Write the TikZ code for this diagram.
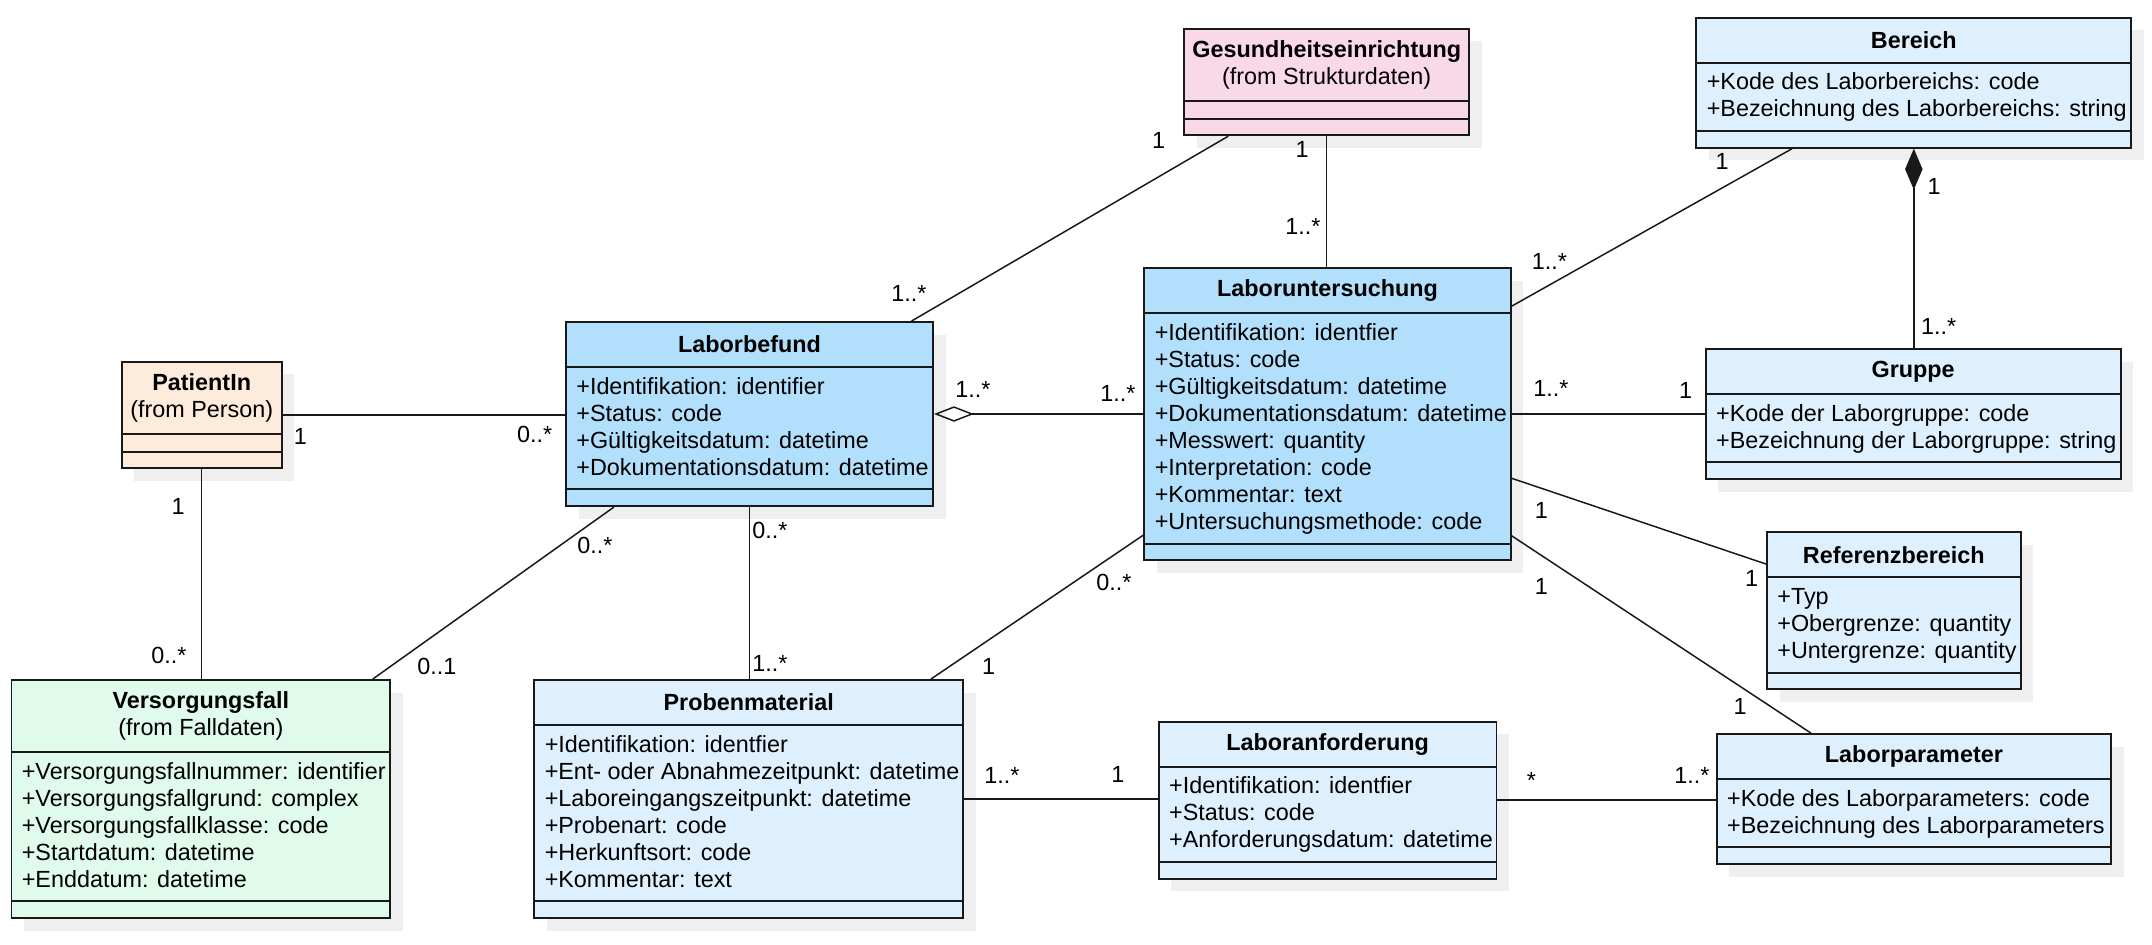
\documentclass[tikz,border=0pt]{standalone}
\usepackage{fontspec}
\setmainfont{Liberation Sans}
\usepackage{tikz}
\usetikzlibrary{calc,fit,arrows.meta}
\definecolor{befundblue}{HTML}{B2DFFB}
\definecolor{paleblue}{HTML}{DEF0FD}
\definecolor{peach}{HTML}{FDEBDC}
\definecolor{pink}{HTML}{F9D9E8}
\definecolor{mint}{HTML}{E0FBEB}
\definecolor{shadowgray}{HTML}{EFEFEF}
\tikzset{
  boxshadow/.style={fill=shadowgray},
  classbox/.style={draw=black!90, line width=1.1pt, inner sep=0pt},
  classline/.style={draw=black!90, line width=1.1pt},
  classtitle/.style={inner sep=0pt, align=center, font=\fontsize{13.3}{15.4}\selectfont},
  classattr/.style={inner sep=0pt, anchor=base west, font=\fontsize{13.3}{15.4}\selectfont},
  mult/.style={inner sep=0pt, font=\fontsize{13.3}{15.4}\selectfont},
  assoc/.style={draw=black!90, line width=0.85pt}
}
% class box: [fill](name)(x,y)(width:header:rows){title}{attributes}
\def\umlclass[#1](#2)(#3,#4)(#5:#6:#7)#8#9{%
  \pgfmathsetmacro\ah{(#7==0)*18+(#7>0)*(27*#7+14.4)}%
  \pgfmathsetmacro\xr{#3+#5}%
  \pgfmathsetmacro\yb{#4+#6+\ah+16.6}%
  \fill[boxshadow] (#3+12.5,#4+12.5) rectangle (\xr+12.5,\yb+12.5);
  \node[classbox, fill=#1, fit={(#3,#4) (\xr,\yb)}] (#2) {};
  \draw[classline] (#3,#4+#6) -- (\xr,#4+#6);
  \draw[classline] (#3,#4+#6+\ah) -- (\xr,#4+#6+\ah);
  \node[classtitle] (#2-t) at (#3+#5/2,#4+#6/2) {#8};
  \foreach \a [count=\i] in {#9} \node[classattr] (#2-a\i) at (#3+10,#4+#6+27*\i) {\a};
}

\begin{document}
\begin{tikzpicture}[x=0.02cm, y=-0.02cm]
			%%%%% START %%%%%
			\useasboundingbox (0,0) rectangle (2152,944);
			
			\umlclass[peach](pat)(121.7,361.7)(160:72:0){\textbf{PatientIn}\\(from Person)}{}
			\umlclass[befundblue](lbf)(566,322)(367:45:4){\textbf{Laborbefund}}{+Identifikation: identifier, +Status: code, +Gültigkeitsdatum: datetime, +Dokumentationsdatum: datetime}
			\umlclass[befundblue](lu)(1144.4,268.2)(366.2:45:8){\textbf{Laboruntersuchung}}{+Identifikation: identfier, +Status: code, +Gültigkeitsdatum: datetime, +Dokumentationsdatum: datetime, +Messwert: quantity, +Interpretation: code, +Kommentar: text, +Untersuchungsmethode: code}
			\umlclass[pink](ges)(1184.2,28.6)(285:72:0){\textbf{Gesundheitseinrichtung}\\(from Strukturdaten)}{}
			\umlclass[paleblue](ber)(1696.4,17.7)(434.8:45:2){\textbf{Bereich}}{+Kode des Laborbereichs: code, +Bezeichnung des Laborbereichs: string}
			\umlclass[paleblue](grp)(1705.8,349)(414.7:45:2){\textbf{Gruppe}}{+Kode der Laborgruppe: code, +Bezeichnung der Laborgruppe: string}
			\umlclass[paleblue](ref)(1767,532.3)(253.6:45:3){\textbf{Referenzbereich}}{+Typ, +Obergrenze: quantity, +Untergrenze: quantity}
			\umlclass[paleblue](lpa)(1716.8,734)(394.2:45:2){\textbf{Laborparameter}}{+Kode des Laborparameters: code, +Bezeichnung des Laborparameters}
			\umlclass[paleblue](lan)(1158.8,721.7)(337.7:45:3){\textbf{Laboranforderung}}{+Identifikation: identfier, +Status: code, +Anforderungsdatum: datetime}
			\umlclass[paleblue](pro)(534.4,680)(428.6:45:6){\textbf{Probenmaterial}}{+Identifikation: identfier, +Ent- oder Abnahmezeitpunkt: datetime, +Laboreingangszeitpunkt: datetime, +Probenart: code, +Herkunftsort: code, +Kommentar: text}
			\umlclass[mint](vf)(11.5,680)(378.8:72:5){\textbf{Versorgungsfall}\\(from Falldaten)}{+Versorgungsfallnummer: identifier, +Versorgungsfallgrund: complex, +Versorgungsfallklasse: code, +Startdatum: datetime, +Enddatum: datetime}
			
			\draw[assoc] (pat.east) -- (pat.east -| lbf.west);
			\draw[assoc] (pat.south) -- (pat.south |- vf.north);
			\draw[assoc] ($(lbf.south west)+(49,0)$) -- ($(vf.north east)+(-18.5,0)$);
			\draw[assoc] (lbf.south) -- (lbf.south |- pro.north);
			\draw[assoc, {Diamond[open,length=0.8cm,width=0.31cm]}-] (lbf.east) -- (lbf.east -| lu.west);
			\draw[assoc] ($(ges.south west)+(45,0)$) -- ($(lbf.north east)+(-22.4,0)$);
			\draw[assoc] (ges.south) -- (ges.south |- lu.north);
			\draw[assoc] ($(ber.south west)+(96.6,0)$) -- ($(lu.north east)+(0,39)$);
			\draw[assoc, {Diamond[length=0.82cm,width=0.35cm]}-] (ber.south) -- (ber.south |- grp.north);
			\draw[assoc] (lu.east) -- (lu.east -| grp.west);
			\draw[assoc] ($(lu.north east)+(0,211)$) -- ($(ref.north west)+(0,32.7)$);
			\draw[assoc] ($(lu.north east)+(0,268.5)$) -- ($(lpa.north west)+(95,0)$);
			\draw[assoc] ($(lu.north west)+(0,267.8)$) -- ($(pro.north east)+(-33,0)$);
			\draw[assoc] (pro.east) -- (pro.east -| lan.west);
			\draw[assoc] (lan.east) -- (lan.east -| lpa.west);
			
			\node[mult] (m1) at (300.4,436.7) {1};
			\node[mult] (m2) at (534.6,434.3) {0..*};
			\node[mult] (m3) at (178,506.7) {1};
			\node[mult] (m4) at (169,655) {0..*};
			\node[mult] (m5) at (595,545.7) {0..*};
			\node[mult] (m6) at (436.9,666.7) {0..1};
			\node[mult] (m7) at (770,530) {0..*};
			\node[mult] (m8) at (769.8,663.3) {1..*};
			\node[mult] (m9) at (973,389.6) {1..*};
			\node[mult] (m10) at (1118,393) {1..*};
			\node[mult] (m11) at (1158.5,140) {1};
			\node[mult] (m12) at (908.8,293.4) {1..*};
			\node[mult] (m13) at (1302,149) {1};
			\node[mult] (m14) at (1303,226) {1..*};
			\node[mult] (m15) at (1722,161) {1};
			\node[mult] (m16) at (1549.5,261.7) {1..*};
			\node[mult] (m17) at (1934,186.7) {1};
			\node[mult] (m18) at (1938.6,326.7) {1..*};
			\node[mult] (m19) at (1551,388.3) {1..*};
			\node[mult] (m20) at (1685.7,390.7) {1};
			\node[mult] (m21) at (1541.4,510.7) {1};
			\node[mult] (m22) at (1751.6,578.3) {1};
			\node[mult] (m23) at (1541.4,586) {1};
			\node[mult] (m24) at (1740,706.7) {1};
			\node[mult] (m25) at (1114,582.7) {0..*};
			\node[mult] (m26) at (988.7,666) {1};
			\node[mult] (m27) at (1001.8,775) {1..*};
			\node[mult] (m28) at (1117.8,774) {1};
			\node[mult] (m29) at (1531.3,780) {*};
			\node[mult] (m30) at (1692,775) {1..*};
			%%%%% END %%%%%
\end{tikzpicture}
\end{document}
